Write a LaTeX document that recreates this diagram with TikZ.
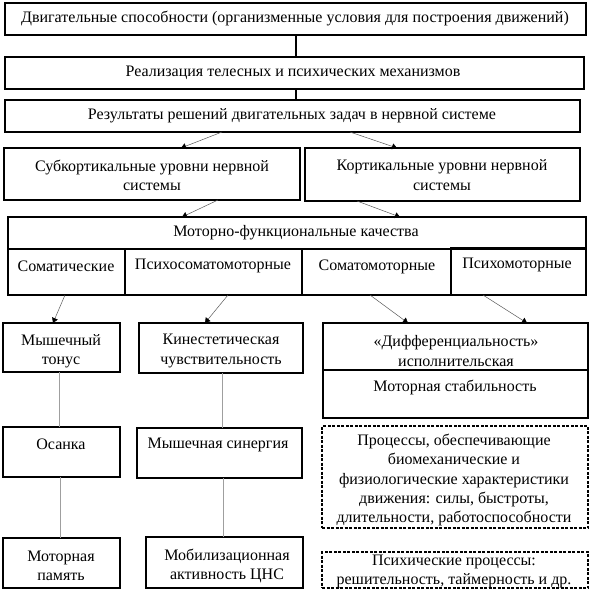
\documentclass[tikz,border=0pt]{standalone}
\usepackage{fontspec}
\setmainfont{Liberation Serif}
\usetikzlibrary{arrows.meta}
\newcommand\mybox[6][box]{\node[#1, minimum width={(#5-#3)*1pt}, minimum height={(#6-#4)*1pt}] (#2) at (#3,#4) {};}
\begin{document}
\begin{tikzpicture}[x=1pt,y=-1pt,
 box/.style={draw=black, line width=1.1pt, inner sep=0pt, outer sep=0pt, anchor=north west},
 dbox/.style={box, line width=1.1pt, dash pattern=on 3pt off 1.5pt},
 txt/.style={inner sep=0pt, align=center, font=\fontsize{16}{19.3}\selectfont},
 link/.style={draw=black, line width=1.1pt},
 thinl/.style={draw=gray!75, line width=0.6pt},
 arr/.style={draw=gray!70!black, line width=0.5pt, -{Triangle[length=5pt,width=6pt,fill=black,color=black]}},
]
\useasboundingbox (0,0) rectangle (591,592);

\mybox{b1}{5}{3}{586}{35}
\mybox{b2}{5}{57}{584}{89}
\mybox{b3}{5}{100}{580}{132}
\mybox{b4}{4}{148}{300}{200}
\mybox{b5}{305}{148}{580}{201}
\mybox{b6}{8}{217}{586}{249}
\mybox{c1}{8}{249}{125}{295}
\mybox{c2}{125}{249}{302}{295}
\mybox{c3}{302}{249}{451}{295}
\mybox{c4}{451}{248}{586}{295}
\mybox{m1}{3}{323}{120}{372}
\mybox{k1}{139}{323}{303}{373}
\mybox{d1a}{323}{323}{588}{370}
\mybox{d1b}{323}{370}{588}{418}
\mybox{o1}{3}{427}{120}{477}
\mybox{s1}{137}{428}{302}{478}
\mybox{p1}{3}{538}{120}{588}
\mybox{a1}{146}{537}{303}{588}
\mybox[dbox]{e1}{322}{426}{588}{528}
\mybox[dbox]{e2}{322}{552}{588}{588}

\node[txt] (t1) at (295,18) {Двигательные способности (организменные условия для построения движений)};
\node[txt] (t2) at (293,73) {Реализация телесных и психических механизмов};
\node[txt] (t3) at (292,116) {Результаты решений двигательных задач в нервной системе};
\node[txt] (t4) at (152,175) {Субкортикальные уровни нервной\\системы};
\node[txt] (t5) at (442,175) {Кортикальные уровни нервной\\системы};
\node[txt] (t6) at (296,233) {Моторно-функциональные качества};
\node[txt] (tc1) at (66,266) {Соматические};
\node[txt] (tc2) at (213,266) {Психосоматомоторные};
\node[txt] (tc3) at (377,267) {Соматомоторные};
\node[txt] (tc4) at (517,265) {Психомоторные};
\node[txt] (tm1) at (61,351) {Мышечный\\тонус};
\node[txt] (tk1) at (221,351) {Кинестетическая\\чувствительность};
\node[txt] (td1) at (456,351) {«Дифференциальность»\\исполнительская};
\node[txt] (td2) at (455,387) {Моторная стабильность};
\node[txt] (to1) at (61,444) {Осанка};
\node[txt] (ts1) at (218,445) {Мышечная синергия};
\node[txt] (tp1) at (61,566) {Моторная\\память};
\node[txt] (ta1) at (227,566) {Мобилизационная\\активность ЦНС};
\node[txt] (te1) at (454,480) {Процессы, обеспечивающие\\биомеханические и\\физиологические характеристики\\движения: силы, быстроты,\\длительности, работоспособности};
\node[txt] (te2) at (454,571.5) {Психические процессы:\\решительность, таймерность и др.};

\draw[link] ([xshift=291pt]b1.south west) -- ([xshift=291pt]b2.north west);
\draw[link] ([xshift=291pt]b2.south west) -- ([xshift=291pt]b3.north west);

\draw[arr] ([xshift=217pt]b3.south west) -- ([xshift=177pt]b4.north west);
\draw[arr] ([xshift=345pt]b3.south west) -- ([xshift=92pt]b5.north west);
\draw[arr] ([xshift=214pt]b4.south west) -- ([xshift=174pt]b6.north west);
\draw[arr] ([xshift=52pt]b5.south west) -- ([xshift=392pt]b6.north west);
\draw[arr] ([xshift=57pt]c1.south west) -- ([xshift=50pt]m1.north west);
\draw[arr] ([xshift=103pt]c2.south west) -- ([xshift=66pt]k1.north west);
\draw[arr] ([xshift=68pt]c3.south west) -- ([xshift=85pt]d1a.north west);
\draw[arr] ([xshift=32pt]c4.south west) -- ([xshift=204pt]d1a.north west);

\draw[thinl] ([xshift=56pt]m1.south west) -- ([xshift=56pt]o1.north west);
\draw[thinl] ([xshift=57pt]o1.south west) -- ([xshift=57pt]p1.north west);
\draw[thinl] ([xshift=83pt]k1.south west) -- ([xshift=85pt]s1.north west);
\draw[thinl] ([xshift=86pt]s1.south west) -- ([xshift=77pt]a1.north west);
\end{tikzpicture}
\end{document}
